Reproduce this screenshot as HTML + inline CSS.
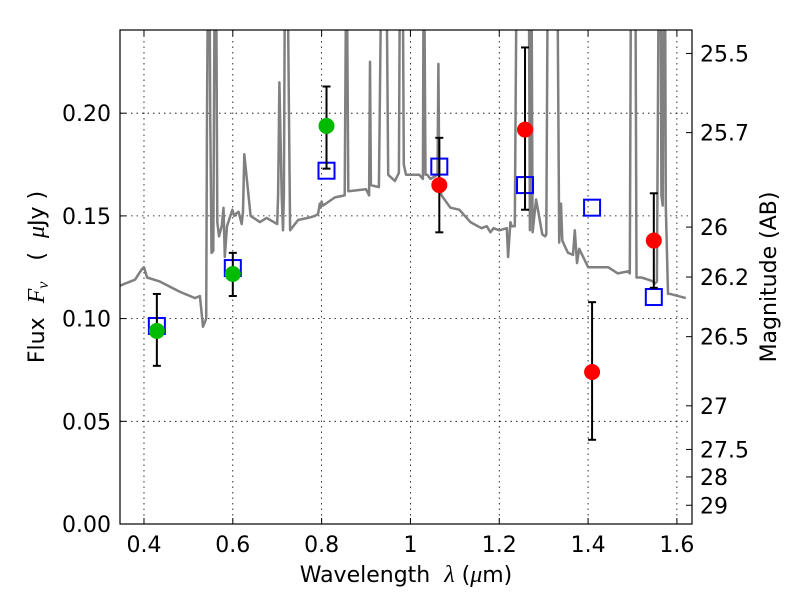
<!DOCTYPE html>
<html><head><meta charset="utf-8"><style>
body{margin:0;background:#fff}
svg{display:block;font-family:"DejaVu Sans","Liberation Sans",sans-serif}
</style></head><body>
<svg id="chart" width="800" height="600" viewBox="0 0 800 600">
<defs><clipPath id="pc"><rect x="120" y="30" width="572" height="494"/></clipPath></defs>
<g id="grid"></g>
<g id="spec" clip-path="url(#pc)"></g>
<g id="pts" clip-path="url(#pc)"></g>
<rect x="120" y="30" width="572" height="494" fill="none" stroke="#000" stroke-width="1.2"/>
<g id="axes"></g>
<text x="406" y="582" font-size="22" text-anchor="middle" xml:space="preserve">Wavelength  <tspan font-family="Liberation Serif" font-style="italic" font-size="24">λ</tspan> (<tspan font-family="Liberation Serif" font-style="italic" font-size="24">μ</tspan>m)</text>
<text transform="translate(44,277) rotate(-90)" font-size="22" text-anchor="middle" xml:space="preserve">Flux  <tspan font-family="Liberation Serif" font-style="italic" font-size="24">F<tspan font-size="16" dy="4">ν</tspan></tspan><tspan dy="-4">   (  </tspan><tspan font-family="Liberation Serif" font-style="italic" font-size="24">μ</tspan>Jy )</text>
<text transform="translate(776,277) rotate(-90)" font-size="22" text-anchor="middle">Magnitude (AB)</text>
</svg>
<script>
const xTicks=[0.4,0.6,0.8,1.0,1.2,1.4,1.6];
const xTickLabels=["0.4","0.6","0.8","1","1.2","1.4","1.6"];
const yTicks=[0,0.05,0.10,0.15,0.20];
const yTickLabels=["0.00","0.05","0.10","0.15","0.20"];
const magTicks=[25.5,25.7,26,26.2,26.5,27,27.5,28,29];
const magTickLabels=["25.5","25.7","26","26.2","26.5","27","27.5","28","29"];
const obsWave=[0.429,0.600,0.811,1.065,1.258,1.409,1.548];
const obsFlux=[0.094,0.1217,0.1938,0.165,0.192,0.074,0.138];
const obsLo=[0.077,0.111,0.173,0.142,0.153,0.041,0.115];
const obsHi=[0.112,0.132,0.213,0.188,0.232,0.108,0.161];
const obsColor=["#00bb00","#00bb00","#00bb00","red","red","red","red"];
const modelFlux=[0.0964,0.1246,0.172,0.174,0.165,0.154,0.1105];
const specWave=[0.346,0.357,0.380,0.395,0.400,0.407,0.436,0.481,0.515,0.526,0.533,0.540,0.542,0.545,0.547,0.549,0.552,0.556,0.560,0.562,0.565,0.569,0.575,0.579,0.582,0.587,0.599,0.603,0.607,0.613,0.620,0.623,0.626,0.640,0.661,0.676,0.700,0.702,0.705,0.710,0.713,0.715,0.718,0.722,0.729,0.747,0.769,0.785,0.792,0.796,0.798,0.800,0.803,0.830,0.852,0.854,0.856,0.860,0.900,0.907,0.909,0.911,0.929,0.936,0.938,0.940,0.945,0.950,0.965,0.974,0.977,0.982,0.985,0.990,1.000,1.020,1.028,1.030,1.034,1.038,1.045,1.061,1.063,1.065,1.070,1.090,1.110,1.135,1.160,1.172,1.180,1.187,1.200,1.217,1.220,1.225,1.228,1.235,1.240,1.263,1.266,1.269,1.272,1.275,1.283,1.297,1.303,1.306,1.310,1.330,1.335,1.339,1.342,1.348,1.355,1.366,1.370,1.375,1.380,1.400,1.445,1.467,1.490,1.494,1.497,1.506,1.509,1.520,1.535,1.547,1.550,1.555,1.560,1.563,1.565,1.568,1.571,1.573,1.575,1.580,1.585,1.620,1.634];
const specFlux=[0.116,0.117,0.119,0.124,0.125,0.120,0.118,0.113,0.110,0.111,0.096,0.100,0.200,0.300,0.300,0.200,0.132,0.133,0.300,0.300,0.147,0.140,0.145,0.154,0.130,0.145,0.153,0.150,0.151,0.152,0.146,0.152,0.180,0.150,0.147,0.149,0.146,0.160,0.215,0.160,0.143,0.160,0.300,0.300,0.143,0.148,0.149,0.150,0.151,0.156,0.154,0.157,0.155,0.159,0.160,0.229,0.300,0.162,0.163,0.160,0.225,0.165,0.164,0.300,0.300,0.300,0.300,0.170,0.167,0.171,0.300,0.300,0.175,0.170,0.170,0.170,0.168,0.300,0.170,0.170,0.168,0.170,0.224,0.165,0.160,0.154,0.153,0.147,0.144,0.145,0.142,0.144,0.143,0.144,0.130,0.147,0.145,0.145,0.300,0.300,0.300,0.143,0.300,0.142,0.158,0.141,0.140,0.141,0.300,0.300,0.137,0.156,0.138,0.135,0.132,0.131,0.143,0.127,0.134,0.125,0.125,0.122,0.123,0.122,0.300,0.300,0.120,0.120,0.119,0.118,0.117,0.118,0.300,0.300,0.160,0.155,0.300,0.300,0.155,0.112,0.112,0.110];

const X0=120,X1=692,Y0=524,Y1=30,xmin=0.346,xmax=1.634,ymin=0,ymax=0.2405;
const sx=v=>X0+(v-xmin)/(xmax-xmin)*(X1-X0);
const sy=v=>Y0-(v-ymin)/(ymax-ymin)*(Y0-Y1);
const magToFlux=m=>Math.pow(10,(23.9-m)/2.5);
const NS="http://www.w3.org/2000/svg";
function mk(tag,attrs,parent,text){const e=document.createElementNS(NS,tag);for(const k in attrs)e.setAttribute(k,attrs[k]);if(text!==undefined)e.textContent=text;parent.appendChild(e);return e;}
const grid=document.getElementById('grid'),axes=document.getElementById('axes'),spec=document.getElementById('spec'),pts=document.getElementById('pts');

xTicks.forEach((t,i)=>{const x=sx(t);
 const g=mk('line',{x1:x,x2:x,y1:Y1,y2:Y0,stroke:'#000','stroke-width':0.8,'stroke-dasharray':'1.5,4'},grid);
 
 
 mk('line',{x1:x,x2:x,y1:Y0,y2:Y0-6,stroke:'#000'},axes);
 mk('line',{x1:x,x2:x,y1:Y1,y2:Y1+6,stroke:'#000'},axes);
 const l=mk('text',{x:x,y:Y0+28,'font-size':22,'text-anchor':'middle'},axes,xTickLabels[i]);
 
 
});
yTicks.forEach((t,i)=>{const y=sy(t);
 const g=mk('line',{x1:X0,x2:X1,y1:y,y2:y,stroke:'#000','stroke-width':0.8,'stroke-dasharray':'1.5,4'},grid);
 
 
 mk('line',{x1:X0,x2:X0+6,y1:y,y2:y,stroke:'#000'},axes);
 const l=mk('text',{x:X0-9,y:y+8,'font-size':22,'text-anchor':'end'},axes,yTickLabels[i]);
 
 
});
magTicks.forEach((m,i)=>{const y=sy(magToFlux(m));
 mk('line',{x1:X1,x2:X1-6,y1:y,y2:y,stroke:'#000'},axes);
 const l=mk('text',{x:X1+8,y:y+8,'font-size':22},axes,magTickLabels[i]);
 
 
});
let d='';specWave.forEach((w,i)=>{d+=(i?'L':'M')+sx(w).toFixed(1)+','+sy(specFlux[i]).toFixed(1);});
const sp=mk('path',{d:d,fill:'none',stroke:'#808080','stroke-width':2.5,'stroke-linejoin':'round'},spec);


obsWave.forEach((w,i)=>{const x=sx(w);
 const m=mk('rect',{x:x-8,y:sy(modelFlux[i])-8,width:16,height:16,fill:'none',stroke:'#0000ff','stroke-width':2},pts);
 
 
 const e=mk('g',{stroke:'#000','stroke-width':2},pts);
 
 
 mk('line',{x1:x,x2:x,y1:sy(obsLo[i]),y2:sy(obsHi[i])},e);
 mk('line',{x1:x-4,x2:x+4,y1:sy(obsLo[i]),y2:sy(obsLo[i])},e);
 mk('line',{x1:x-4,x2:x+4,y1:sy(obsHi[i]),y2:sy(obsHi[i])},e);
 const c=mk('circle',{cx:x,cy:sy(obsFlux[i]),r:8,fill:obsColor[i]},pts);
 
 
});
</script>
</body></html>
